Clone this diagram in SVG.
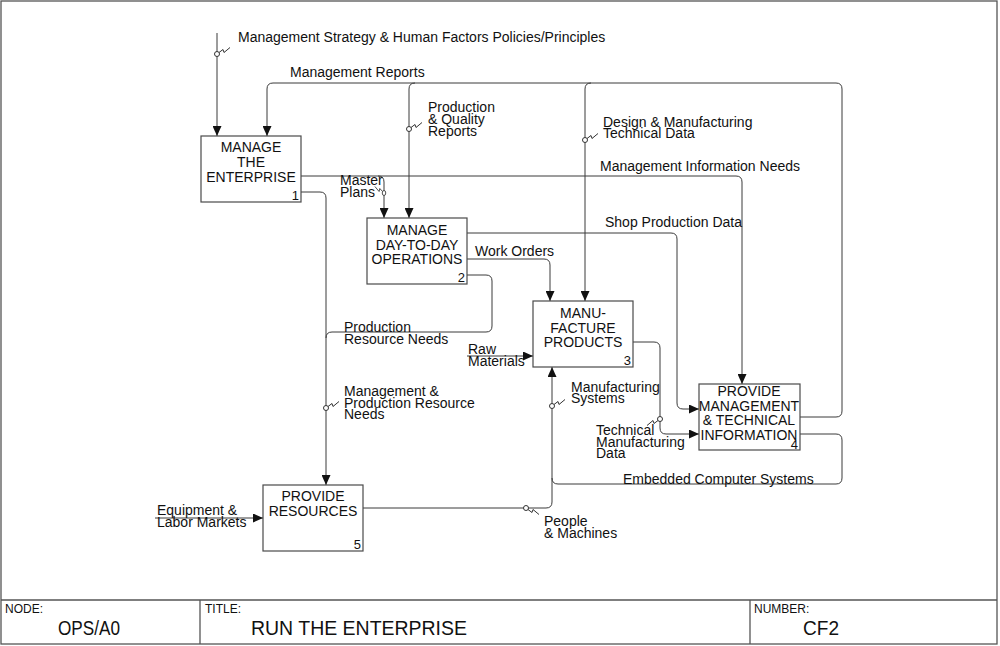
<svg xmlns="http://www.w3.org/2000/svg" xmlns:xlink="http://www.w3.org/1999/xlink" width="1000" height="646" viewBox="0 0 1000 646">
<style>
text{font-family:"Liberation Sans",Arial,sans-serif;fill:#111;}
.lb{font-size:14px;}
.bx{font-size:14px;text-anchor:middle;}
.num{font-size:13px;text-anchor:end;}
.c{fill:none;stroke:#3a3a3a;stroke-width:1;}
.box{fill:#fff;stroke:#4a4a4a;stroke-width:1.2;}
.frame{fill:none;stroke:#555;stroke-width:1.3;}
.sm{font-size:12px;}
.big{font-size:20px;}
.sq{fill:none;stroke:#333;stroke-width:1;}
</style>
<defs>
<marker id="ah" markerUnits="userSpaceOnUse" markerWidth="10" markerHeight="9" refX="10" refY="4.5" orient="auto">
<path d="M0,0 L10,4.5 L0,9 z" fill="#111"/>
</marker>
<g id="sq">
<path class="sq" d="M2,-1.5 L6,-4.5 L7,-1.5 L13,-6.5"/>
<circle cx="0" cy="0" r="2.5" fill="#fff" stroke="#333" stroke-width="1"/>
</g>
</defs>
<rect width="1000" height="646" fill="#fff"/>
<g id="frame">
<rect class="frame" x="1" y="1" width="996" height="643"/>
<line class="frame" x1="1" y1="600" x2="997" y2="600"/>
<line class="frame" x1="200" y1="600" x2="200" y2="644"/>
<line class="frame" x1="750" y1="600" x2="750" y2="644"/>
<text class="sm" x="5" y="613">NODE:</text>
<text class="big" x="58" y="635" textLength="62" lengthAdjust="spacingAndGlyphs">OPS/A0</text>
<text class="sm" x="205" y="613">TITLE:</text>
<text class="big" x="251" y="635" textLength="216" lengthAdjust="spacingAndGlyphs">RUN THE ENTERPRISE</text>
<text class="sm" x="754" y="613">NUMBER:</text>
<text class="big" x="803" y="635" textLength="36" lengthAdjust="spacingAndGlyphs">CF2</text>
</g>
<g id="connectors">
<path class="c" d="M217,33 L217,136" marker-end="url(#ah)"/>
<path class="c" d="M800,417 L836,417 Q842,417 842,411 L842,89 Q842,83 836,83 L273,83 Q267,83 267,89 L267,136" marker-end="url(#ah)"/>
<path class="c" d="M415,83 Q409,83 409,89 L409,218" marker-end="url(#ah)"/>
<path class="c" d="M591,83 Q585,83 585,89 L585,301" marker-end="url(#ah)"/>
<path class="c" d="M301,176 L736,176 Q742,176 742,182 L742,384" marker-end="url(#ah)"/>
<path class="c" d="M378,176 Q384,176 384,182 L384,218" marker-end="url(#ah)"/>
<path class="c" d="M301,192 L320,192 Q326,192 326,198 L326,485" marker-end="url(#ah)"/>
<path class="c" d="M467,275 L486,275 Q492,275 492,281 L492,326 Q492,332 486,332 L332,332 Q326,332 326,338"/>
<path class="c" d="M467,259 L544,259 Q550,259 550,265 L550,301" marker-end="url(#ah)"/>
<path class="c" d="M467,233 L671,233 Q677,233 677,239 L677,403 Q677,409 683,409 L699,409" marker-end="url(#ah)"/>
<path class="c" d="M633,342 L654,342 Q660,342 660,348 L660,428 Q660,434 666,434 L699,434" marker-end="url(#ah)"/>
<path class="c" d="M800,434 L836,434 Q842,434 842,440 L842,478 Q842,484 836,484 L558,484 Q552,484 552,478"/>
<path class="c" d="M363,508 L546,508 Q552,508 552,502 L552,367" marker-end="url(#ah)"/>
<path class="c" d="M467,356 L533,356" marker-end="url(#ah)"/>
<path class="c" d="M155,518 L263,518" marker-end="url(#ah)"/>
<use xlink:href="#sq" transform="translate(217,54)"/>
<use xlink:href="#sq" transform="translate(409,129)"/>
<use xlink:href="#sq" transform="translate(585,140)"/>
<use xlink:href="#sq" transform="translate(384,193) scale(-0.7,1)"/>
<use xlink:href="#sq" transform="translate(326,408)"/>
<use xlink:href="#sq" transform="translate(552,406)"/>
<use xlink:href="#sq" transform="translate(660,419) scale(-1,-1)"/>
<use xlink:href="#sq" transform="translate(526,508) scale(1,-1)"/>
</g>
<g id="labels">
<text class="lb" x="238" y="42">Management Strategy &amp; Human Factors Policies/Principles</text>
<text class="lb" x="290" y="77">Management Reports</text>
<text class="lb" x="428" y="112">Production</text>
<text class="lb" x="428" y="124">&amp; Quality</text>
<text class="lb" x="428" y="136">Reports</text>
<text class="lb" x="603" y="127">Design &amp; Manufacturing</text>
<text class="lb" x="603" y="138">Technical Data</text>
<text class="lb" x="600" y="171">Management Information Needs</text>
<text class="lb" x="340" y="185">Master</text>
<text class="lb" x="340" y="197">Plans</text>
<text class="lb" x="605" y="227">Shop Production Data</text>
<text class="lb" x="475" y="256">Work Orders</text>
<text class="lb" x="344" y="332">Production</text>
<text class="lb" x="344" y="344">Resource Needs</text>
<text class="lb" x="468" y="354">Raw</text>
<text class="lb" x="468" y="366">Materials</text>
<text class="lb" x="571" y="392">Manufacturing</text>
<text class="lb" x="571" y="403">Systems</text>
<text class="lb" x="344" y="396">Management &amp;</text>
<text class="lb" x="344" y="408">Production Resource</text>
<text class="lb" x="344" y="419">Needs</text>
<text class="lb" x="596" y="435">Technical</text>
<text class="lb" x="596" y="447">Manufacturing</text>
<text class="lb" x="596" y="458">Data</text>
<text class="lb" x="623" y="484">Embedded Computer Systems</text>
<text class="lb" x="157" y="515">Equipment &amp;</text>
<text class="lb" x="157" y="527">Labor Markets</text>
<text class="lb" x="544" y="526">People</text>
<text class="lb" x="544" y="538">&amp; Machines</text>
</g>
<g id="node1">
<rect class="box" x="201" y="136" width="100" height="66"/>
<text class="bx" x="251" y="152">MANAGE</text>
<text class="bx" x="251" y="167">THE</text>
<text class="bx" x="251" y="182">ENTERPRISE</text>
<text class="num" x="299" y="200">1</text>
</g>
<g id="node2">
<rect class="box" x="367" y="218" width="100" height="66"/>
<text class="bx" x="417" y="235">MANAGE</text>
<text class="bx" x="417" y="250">DAY-TO-DAY</text>
<text class="bx" x="417" y="264">OPERATIONS</text>
<text class="num" x="465" y="282">2</text>
</g>
<g id="node3">
<rect class="box" x="533" y="301" width="100" height="66"/>
<text class="bx" x="583" y="318">MANU-</text>
<text class="bx" x="583" y="333">FACTURE</text>
<text class="bx" x="583" y="347">PRODUCTS</text>
<text class="num" x="631" y="365">3</text>
</g>
<g id="node4">
<rect class="box" x="699" y="384" width="101" height="66"/>
<text class="bx" x="749" y="396">PROVIDE</text>
<text class="bx" x="749" y="411">MANAGEMENT</text>
<text class="bx" x="749" y="425">&amp; TECHNICAL</text>
<text class="bx" x="749" y="440">INFORMATION</text>
<text class="num" x="798" y="449">4</text>
</g>
<g id="node5">
<rect class="box" x="263" y="485" width="100" height="66"/>
<text class="bx" x="313" y="501">PROVIDE</text>
<text class="bx" x="313" y="516">RESOURCES</text>
<text class="num" x="361" y="549">5</text>
</g>
</svg>
